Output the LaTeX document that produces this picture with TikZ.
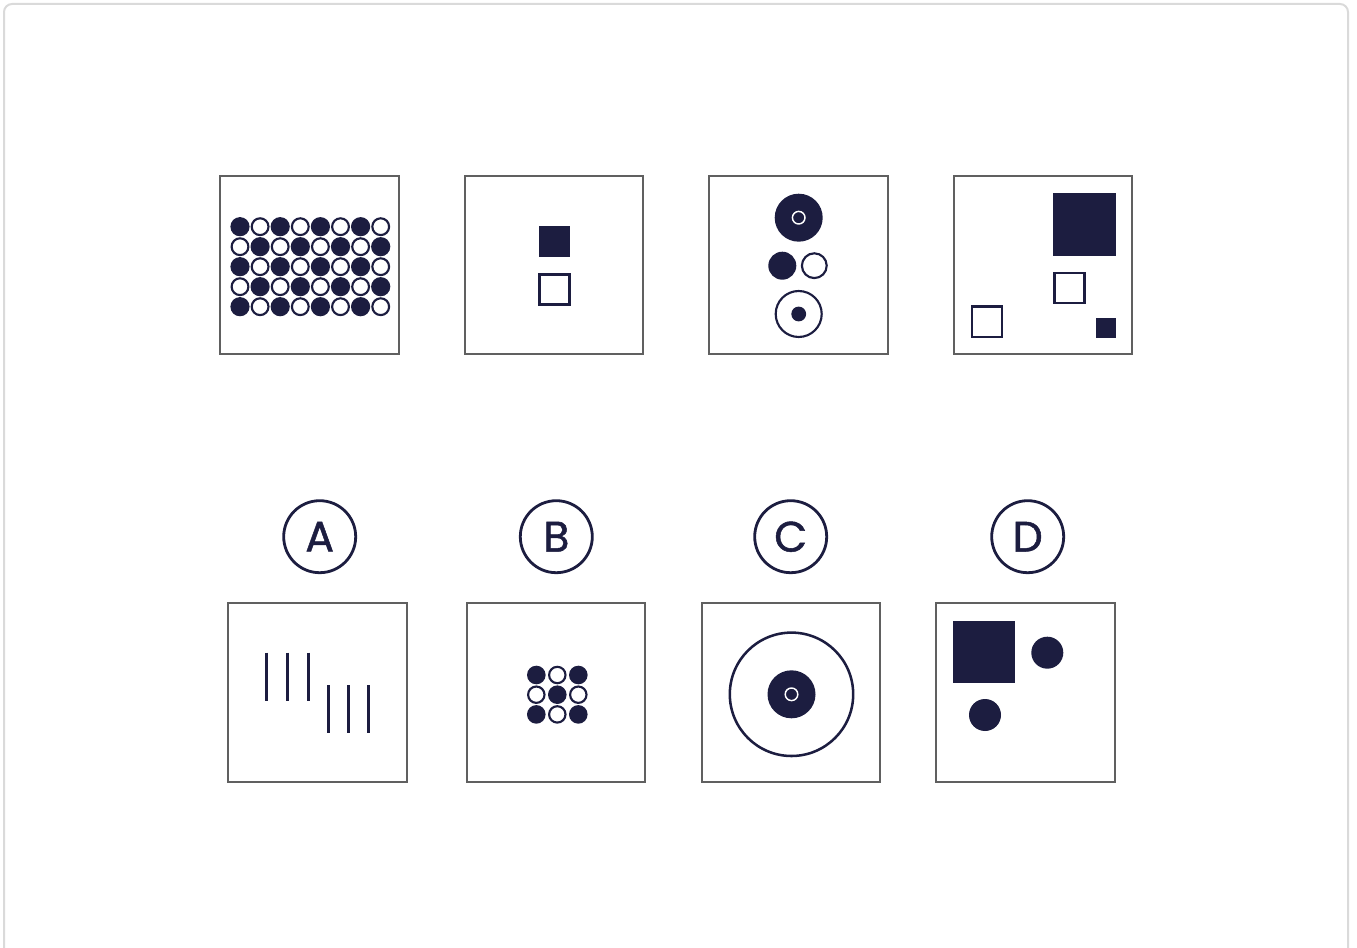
\documentclass[tikz,border=0pt]{standalone}
\usepackage{fontspec}
\setmainfont{Poppins}
\newfontfamily\lettfont[FakeBold=1.2]{Poppins}
\usetikzlibrary{positioning}
\definecolor{navy}{HTML}{1C1D40}
\definecolor{boxgray}{HTML}{606060}
\definecolor{framegray}{HTML}{DADADA}

\begin{document}
\begin{tikzpicture}[x=0.75pt, y=-0.75pt,
        panel/.style={rectangle, draw=boxgray, line width=1.4pt, minimum size=134pt, inner sep=0pt},
        choice/.style={circle, draw=navy, line width=2.1pt, minimum size=54pt, inner sep=0pt, text=navy, font=\lettfont\fontsize{32}{32}\selectfont},
        full/.style={fill=navy},
        hollow/.style={draw=navy, line width=1.6pt, fill=white},
        bar/.style={draw=navy, line width=2.3pt}
    ]
        \clip (0,0) rectangle (1357,948);
        \draw[framegray, line width=1.5pt, rounded corners=6pt] (4,4) rectangle (1348,980);

        % question row
        \node[panel] (q1) at (309.5,265) {};
        \node[panel] (q2) at (554,265) {};
        \node[panel] (q3) at (798.5,265) {};
        \node[panel] (q4) at (1043,265) {};

        % q1: checkerboard of dots
        \foreach \c in {0,...,7}
            \foreach \r in {0,...,4} {
                \pgfmathtruncatemacro{\odd}{mod(\c+\r,2)}
                \ifnum\odd=0
                    \fill[navy] (240+20.1*\c, 226.7+20*\r) circle[radius=9.6];
                \else
                    \draw[hollow] (240+20.1*\c, 226.7+20*\r) circle[radius=8.4];
                \fi
            }

        % q2
        \fill[navy] (538.5,226) rectangle (570,257.5);
        \draw[hollow] (539.5,274.5) rectangle (569.5,304.5);

        % q3
        \fill[navy] (798.7,217.7) circle[radius=24];
        \draw[white, line width=1.1pt] (798.7,217.7) circle[radius=6.3];
        \fill[navy] (782.3,265.7) circle[radius=14];
        \draw[hollow] (814.3,265.7) circle[radius=12.4];
        \draw[hollow] (798.7,314) circle[radius=23];
        \fill[navy] (798.7,314) circle[radius=7.4];

        % q4
        \fill[navy] (1053.3,193.3) rectangle (1115.7,255.7);
        \draw[hollow] (1054.5,272.8) rectangle (1084.5,302.8);
        \draw[hollow] (972.2,306.5) rectangle (1002.2,336.8);
        \fill[navy] (1095.7,317.7) rectangle (1115.7,337.7);

        % answer labels
        \node[choice] (la) at (319.7,536.7) {A};
        \node[choice] (lb) at (556.3,536.7) {B};
        \node[choice] (lc) at (790.7,536.7) {C};
        \node[choice] (ld) at (1027.7,536.7) {D};

        % answer row
        \node[panel] (a) at (317.7,692.5) {};
        \node[panel] (b) at (555.9,692.5) {};
        \node[panel] (c) at (790.9,692.5) {};
        \node[panel] (d) at (1025.5,692.5) {};

        % a: two groups of bars
        \foreach \x in {266.3,287.7,308.3}
            \draw[bar] (\x,652.7) -- (\x,700.7);
        \foreach \x in {328.7,348.7,368.7}
            \draw[bar] (\x,685) -- (\x,733.3);

        % b: small checkerboard
        \foreach \c in {0,1,2}
            \foreach \r in {0,1,2} {
                \pgfmathtruncatemacro{\odd}{mod(\c+\r,2)}
                \ifnum\odd=0
                    \fill[navy] (536.3+21*\c, 675+19.7*\r) circle[radius=9.3];
                \else
                    \draw[hollow] (536.3+21*\c, 675+19.7*\r) circle[radius=8.2];
                \fi
            }

        % c
        \draw[navy, line width=1.9pt] (791.5,694.3) circle[radius=61.7];
        \fill[navy] (791.5,694.3) circle[radius=24];
        \draw[white, line width=1.1pt] (791.5,694.3) circle[radius=6.3];

        % d
        \fill[navy] (952.7,620.7) rectangle (1015,682.7);
        \fill[navy] (1047.3,652.7) circle[radius=16];
        \fill[navy] (985,715) circle[radius=16];
    \end{tikzpicture}
\end{document}
